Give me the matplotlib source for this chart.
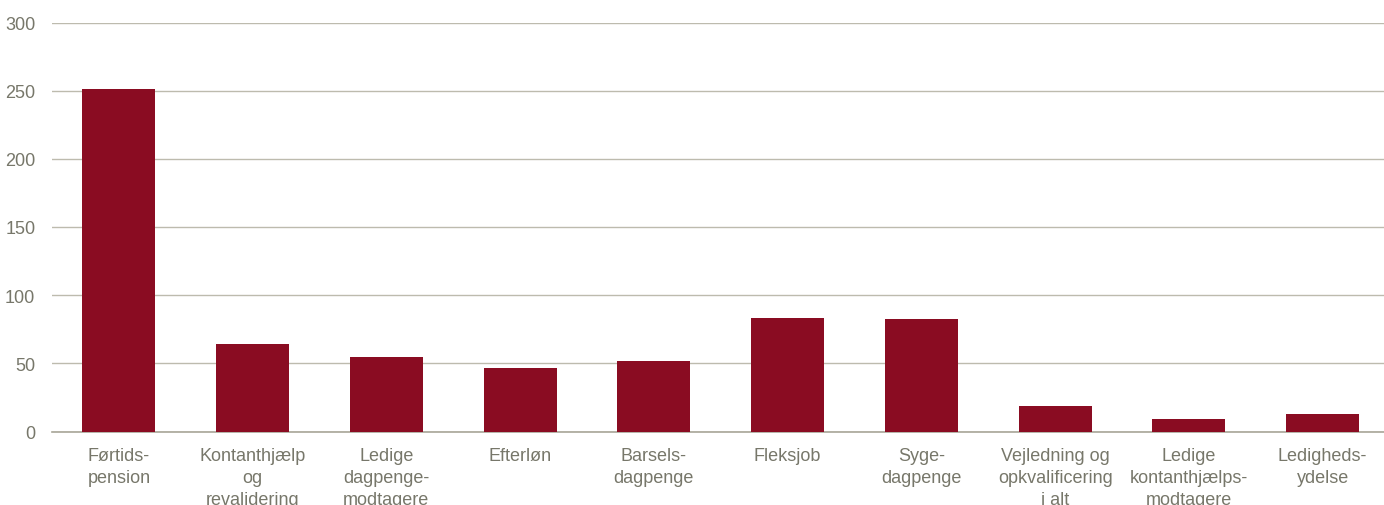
import matplotlib
matplotlib.use("Agg")
import matplotlib.pyplot as plt

categories = ["Førtids-\npension", "Kontanthjælp\nog\nrevalidering", "Ledige\ndagpenge-\nmodtagere",
              "Efterløn", "Barsels-\ndagpenge", "Fleksjob", "Syge-\ndagpenge",
              "Vejledning og\nopkvalificering\ni alt", "Ledige\nkontanthjælps-\nmodtagere",
              "Ledigheds-\nydelse"]
values = [251, 64.5, 54.5, 46.5, 52, 83.5, 82.5, 18.5, 9.5, 12.5]
yticks = [0, 50, 100, 150, 200, 250, 300]

plt.rcParams['font.family'] = ['Liberation Sans', 'DejaVu Sans']
text_color = "#77776a"
grid_color = "#bdbbae"
bar_color = "#8a0c22"

fig = plt.figure(figsize=(13.84, 5.06), dpi=100)
ax = fig.add_axes([52/1384, 73.5/506, 1 - 52/1384 + 0.004, (432-23)/506])

x = list(range(len(categories)))
ax.bar(x, values, width=0.546, color=bar_color, zorder=3)
ax.set_xlim(-0.5, len(categories) - 0.5)
ax.set_ylim(0, 300)
ax.set_yticks(yticks)
ax.set_yticklabels([str(v) for v in yticks])
ax.set_xticks(x)
ax.set_xticklabels(categories, linespacing=1.38)
ax.grid(axis='y', color=grid_color, linewidth=1, zorder=0)
for s in ['top', 'right', 'left']:
    ax.spines[s].set_visible(False)
ax.spines['bottom'].set_color("#a8a698")
ax.spines['bottom'].set_linewidth(1.2)
ax.tick_params(axis='both', length=0, labelsize=13, colors=text_color)
ax.tick_params(axis='x', pad=11)
ax.tick_params(axis='y', pad=12)

fig.savefig("out.png", dpi=100)
